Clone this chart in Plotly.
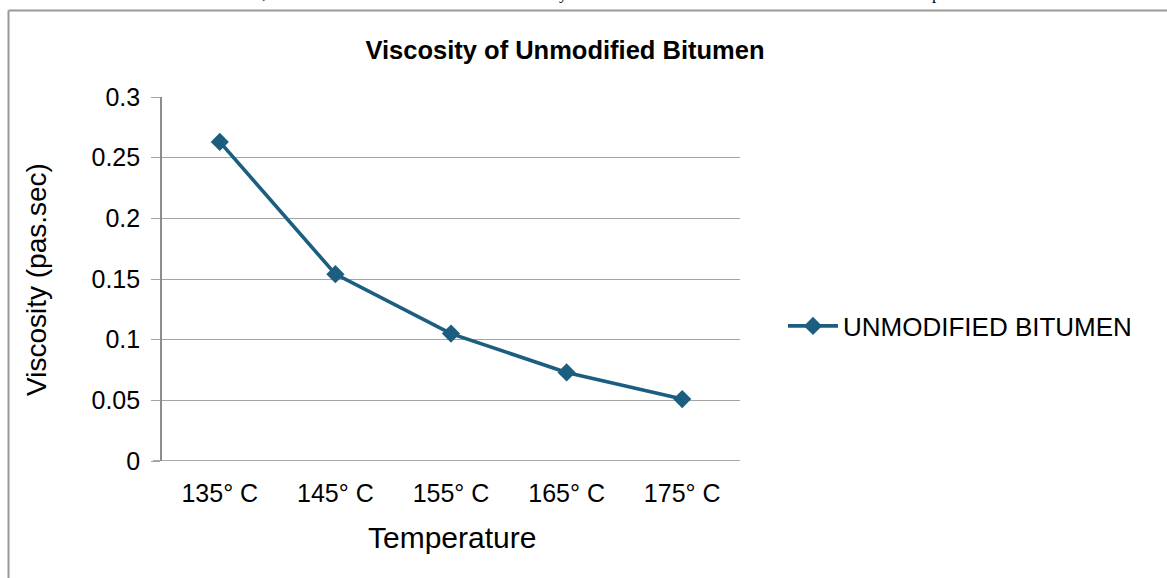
import plotly.graph_objects as go

categories = ["135° C", "145° C", "155° C", "165° C", "175° C"]
viscosity = [0.263, 0.154, 0.105, 0.073, 0.051]
series_name = "UNMODIFIED BITUMEN"
y_ticks = [0, 0.05, 0.1, 0.15, 0.2, 0.25, 0.3]
y_tick_text = ["0", "0.05", "0.1", "0.15", "0.2", "0.25", "0.3"]

W, H = 1167, 578
L, R, T, B = 162, 427, 97, 117
PW, PH = W - L - R, H - T - B

def px(x):
    return (x - L) / PW

def py(y):
    return (H - B - y) / PH

FONT = "Arial, Liberation Sans, sans-serif"
LINE = "#1b5e80"
GRID = "#a3a3a3"

fig = go.Figure()
fig.add_trace(go.Scatter(
    x=categories, y=viscosity, name=series_name, mode="lines+markers",
    line=dict(color=LINE, width=3.6),
    marker=dict(symbol="diamond", size=14, color=LINE),
))

fig.update_layout(
    width=W, height=H,
    margin=dict(l=L, r=R, t=T, b=B),
    paper_bgcolor="white", plot_bgcolor="white",
    font=dict(family=FONT, color="black"),
    title=dict(text="<b>Viscosity of Unmodified Bitumen</b>",
               font=dict(family=FONT, size=25.5, color="black"),
               x=565 / W, xanchor="center", y=1 - 50 / H, yanchor="middle"),
    showlegend=True,
    legend=dict(x=px(783), y=py(326), xanchor="left", yanchor="middle",
                font=dict(family=FONT, size=26, color="black"),
                itemwidth=50,
                bgcolor="rgba(0,0,0,0)"),
    xaxis=dict(
        type="category", range=[-0.5, 4.5],
        showgrid=False, showline=False, zeroline=False,
        ticks="", tickfont=dict(family=FONT, size=25),
        ticklabelstandoff=15,
    ),
    yaxis=dict(
        range=[0, 0.3], tickvals=y_ticks, ticktext=y_tick_text,
        showgrid=True, gridcolor=GRID, gridwidth=1.3,
        showline=True, linecolor="#8c8c8c", linewidth=1.6,
        zeroline=False,
        ticks="outside", ticklen=9, tickcolor=GRID, tickwidth=1.3,
        tickfont=dict(family=FONT, size=25),
        ticklabelstandoff=6,
    ),
)

# axis titles
fig.add_annotation(text="Temperature", xref="paper", yref="paper", x=px(452), y=py(537),
                   xanchor="center", yanchor="middle", showarrow=False,
                   font=dict(family=FONT, size=30, color="black"))
fig.add_annotation(text="Viscosity (pas.sec)", xref="paper", yref="paper", x=px(36), y=py(280),
                   xanchor="center", yanchor="middle", showarrow=False, textangle=-90,
                   font=dict(family=FONT, size=28, color="black"))

# bottom axis line (extends left like the tick marks)
fig.add_shape(type="line", xref="paper", yref="y", x0=px(153), x1=1, y0=0, y1=0,
              line=dict(color="#8c8c8c", width=1.6), layer="above")

# outer chart border (top and left edges visible)
fig.add_shape(type="line", xref="paper", yref="paper", x0=px(8.5), x1=px(W + 5),
              y0=py(10.5), y1=py(10.5), line=dict(color="#9a9a9a", width=2))
fig.add_shape(type="line", xref="paper", yref="paper", x0=px(8.5), x1=px(8.5),
              y0=py(10.5), y1=py(H + 5), line=dict(color="#9a9a9a", width=2))

# clipped descenders of surrounding document text at the very top
for ch, xc in [(",", 264), ("y", 563), ("p", 936)]:
    fig.add_annotation(text=ch, xref="paper", yref="paper", x=px(xc), y=py(5),
                       xanchor="center", yanchor="bottom", showarrow=False,
                       font=dict(family="Liberation Serif, Times New Roman, serif", size=17, color="black"))

fig.write_html("out.html", config={"displayModeBar": False},
               post_script="document.body.style.margin='0';")
